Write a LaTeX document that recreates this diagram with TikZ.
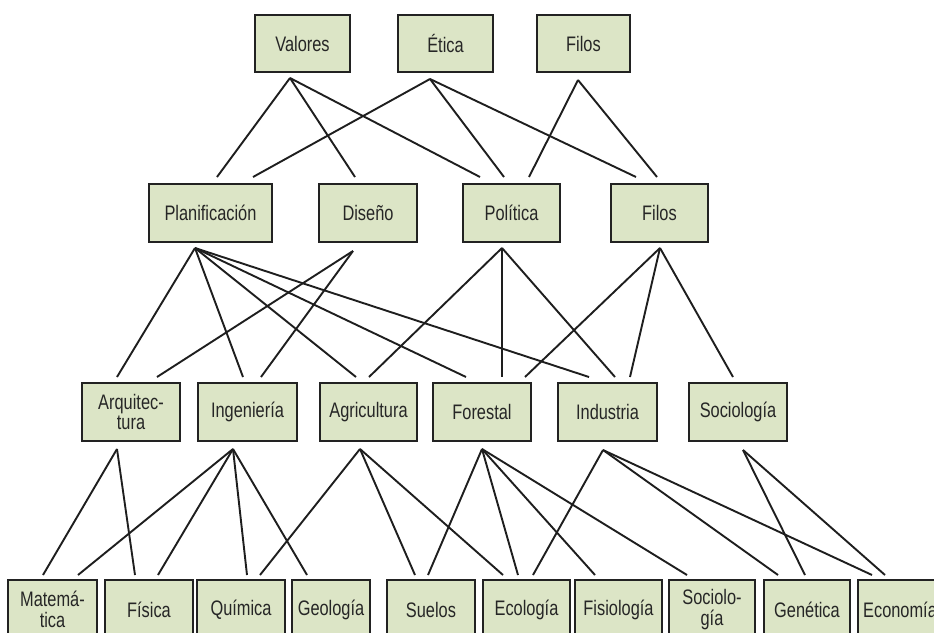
\documentclass[tikz,border=0pt]{standalone}
\usepackage{fontspec}
\setmainfont{Liberation Sans}[FakeStretch=0.78]
\definecolor{boxfill}{HTML}{DCE5C6}
\definecolor{boxline}{HTML}{222222}
\definecolor{txtcol}{HTML}{262626}
\definecolor{conncol}{HTML}{1E1E1E}
\tikzset{
  box/.style={draw=boxline, line width=2.8pt, fill=boxfill, text=txtcol,
    inner sep=0pt, align=center, font=\fontsize{21}{20.5}\selectfont},
  link/.style={draw=conncol, line width=1.9pt},
}
\begin{document}
\begin{tikzpicture}[x=1pt,y=-1pt]
\useasboundingbox (0,0) rectangle (934,632);
\fill[white] (0,0) rectangle (934,632);
\clip (0,0) rectangle (934,632);

% Row 1
\node[box, minimum width=95pt, minimum height=57pt] (valores) at (302.5,43.5) {Valores};
\node[box, minimum width=95pt, minimum height=57pt] (etica) at (445.5,43.5) {Ética};
\node[box, minimum width=93pt, minimum height=57pt] (filosA) at (583.5,43.5) {Filos};

% Row 2
\node[box, minimum width=123pt, minimum height=58pt] (planif) at (210.5,213) {Planificación};
\node[box, minimum width=98pt, minimum height=58pt] (diseno) at (368,213) {Diseño};
\node[box, minimum width=97pt, minimum height=58pt] (politica) at (511.5,213) {Política};
\node[box, minimum width=97pt, minimum height=58pt] (filosB) at (659.5,213) {Filos};

% Row 3
\node[box, minimum width=98pt, minimum height=58pt] (arq) at (131,412) {Arquitec-\\tura};
\node[box, minimum width=99pt, minimum height=58pt] (ing) at (247.5,412) {Ingeniería};
\node[box, minimum width=97pt, minimum height=58pt] (agr) at (368.5,412) {Agricultura};
\node[box, minimum width=98pt, minimum height=58pt] (for) at (482,412) {Forestal};
\node[box, minimum width=99pt, minimum height=58pt] (ind) at (607.5,412) {Industria};
\node[box, minimum width=98pt, minimum height=58pt] (soc) at (738,412) {Sociología};

% Row 4
\node[box, minimum width=89pt, minimum height=59pt] (mat) at (52.5,609.5) {Matemá-\\tica};
\node[box, minimum width=88pt, minimum height=59pt] (fis) at (149,609.5) {Física};
\node[box, minimum width=88pt, minimum height=59pt] (qui) at (241,609.5) {Química};
\node[box, minimum width=78pt, minimum height=59pt] (geo) at (331,609.5) {Geología};
\node[box, minimum width=88pt, minimum height=59pt] (sue) at (431,609.5) {Suelos};
\node[box, minimum width=87pt, minimum height=59pt] (eco) at (526.5,609.5) {Ecología};
\node[box, minimum width=87pt, minimum height=59pt] (fisio) at (618.5,609.5) {Fisiología};
\node[box, minimum width=86pt, minimum height=59pt] (socio) at (712,609.5) {Sociolo-\\gía};
\node[box, minimum width=86pt, minimum height=59pt] (gen) at (807,609.5) {Genética};
\node[box, minimum width=84pt, minimum height=59pt] (econ) at (900,609.5) {Economía};

% apex points
\coordinate (valores-f) at (290,78);
\coordinate (etica-f) at (430,79);
\coordinate (filosA-f) at (578,80);
\coordinate (planif-f) at (195,248);
\coordinate (diseno-f) at (353,251);
\coordinate (politica-f) at (502,248);
\coordinate (filosB-f) at (660,248);
\coordinate (arq-f) at (117,449);
\coordinate (ing-f) at (233,449);
\coordinate (agr-f) at (360,449);
\coordinate (for-f) at (482,449);
\coordinate (ind-f) at (603,450);
\coordinate (soc-f) at (743,450);

% row 1 -> row 2
\foreach \s/\t/\x in {valores/planif/217, etica/planif/253, valores/diseno/355,
  valores/politica/480, etica/politica/504, filosA/politica/529,
  etica/filosB/636, filosA/filosB/657}{
  \coordinate (\s-\t-in) at (\x,177);
  \draw[link] (\s-f) -- (\s-\t-in);
}
% row 2 -> row 3
\foreach \s/\t/\x in {planif/arq/117, diseno/arq/157, planif/ing/243, diseno/ing/261,
  planif/agr/356, politica/agr/369, planif/for/466, politica/for/502, filosB/for/525,
  planif/ind/589, politica/ind/615, filosB/ind/630, filosB/soc/733}{
  \coordinate (\s-\t-in) at (\x,377);
  \draw[link] (\s-f) -- (\s-\t-in);
}
% row 3 -> row 4
\foreach \s/\t/\x in {arq/mat/43, ing/mat/78, arq/fis/135, ing/fis/158,
  ing/qui/247, agr/qui/260, ing/geo/307, agr/sue/415, for/sue/428,
  agr/eco/503, for/eco/518, ind/eco/533, for/fisio/595, for/socio/687,
  ind/gen/778, soc/gen/805, ind/econ/872, soc/econ/885}{
  \coordinate (\s-\t-in) at (\x,575);
  \draw[link] (\s-f) -- (\s-\t-in);
}
\end{tikzpicture}
\end{document}
